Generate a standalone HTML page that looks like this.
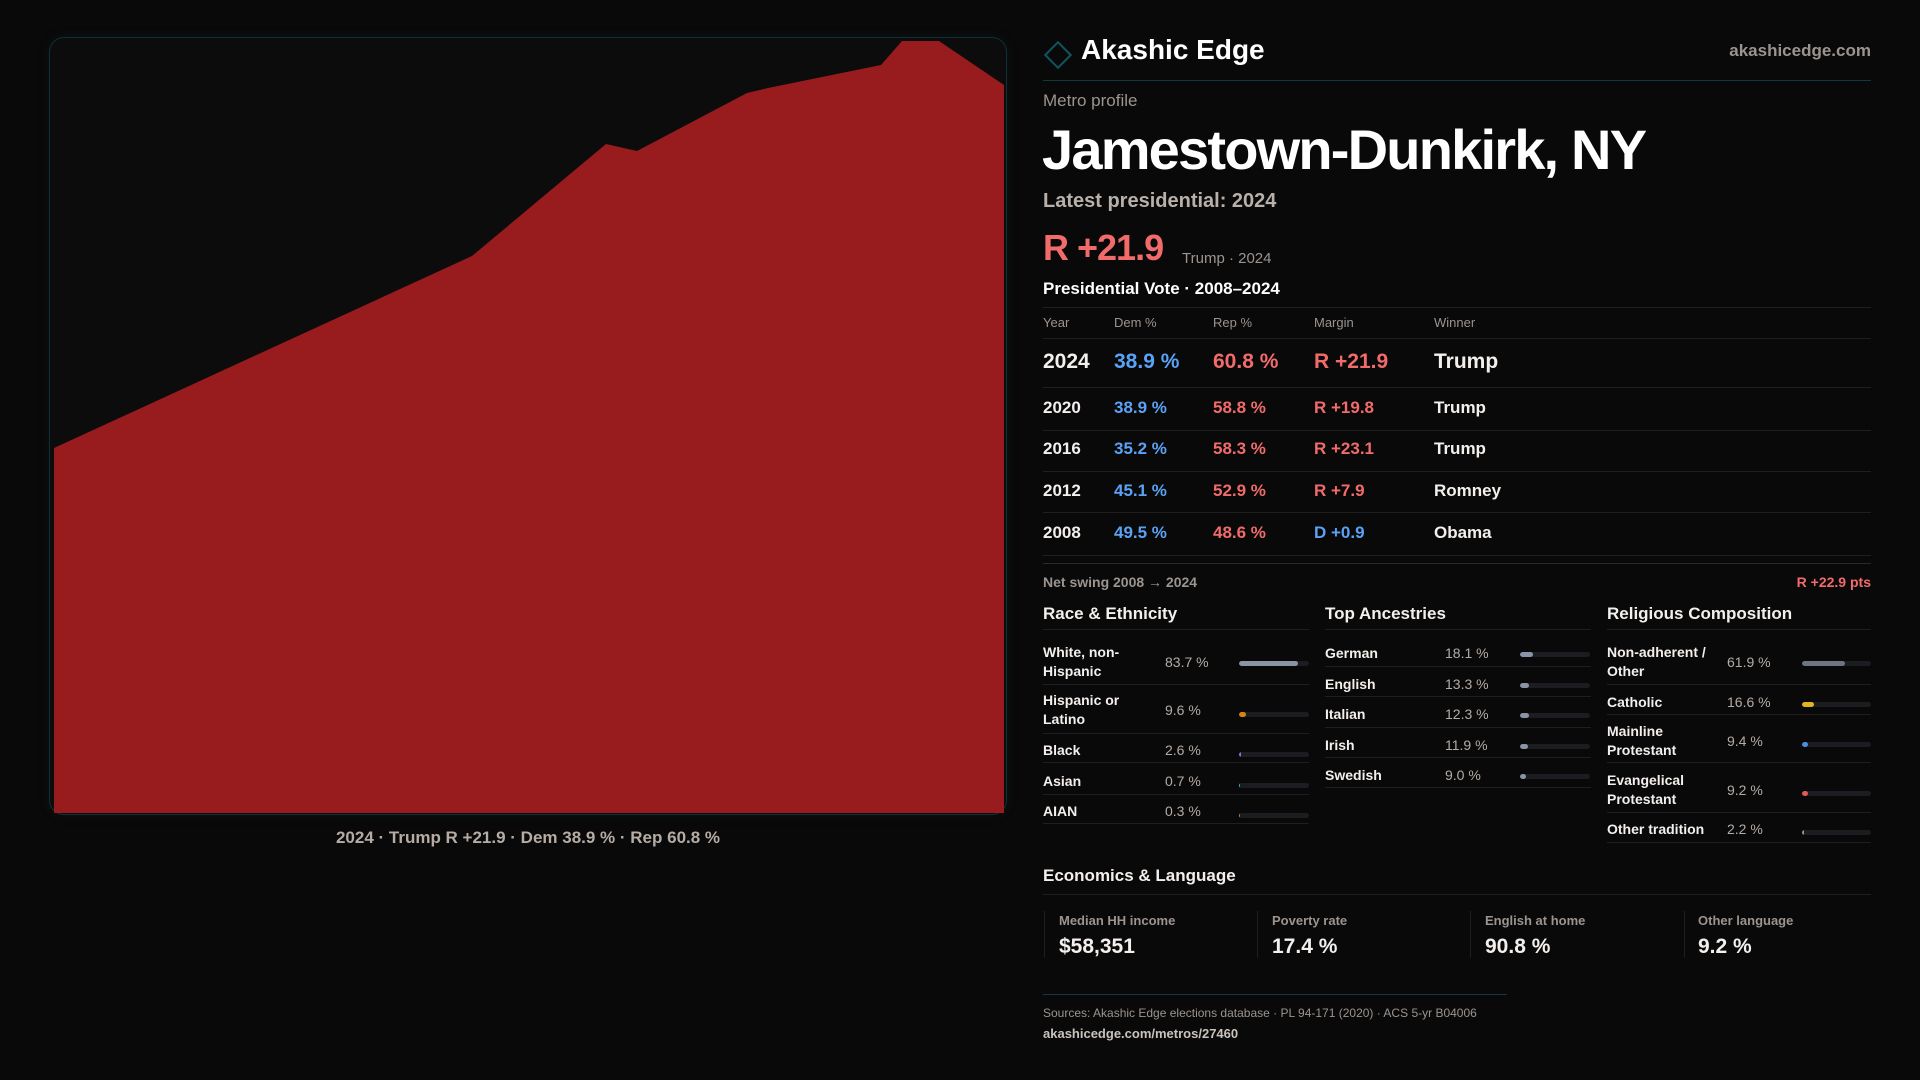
<!DOCTYPE html>
<html><head><meta charset="utf-8"><style>
*{margin:0;padding:0;box-sizing:border-box}
body{width:1920px;height:1080px;background:#0a0909;font-family:"Liberation Sans",sans-serif;color:#f2efec;position:relative;overflow:hidden}
.a{position:absolute;white-space:nowrap}
.ln{position:absolute;height:1px;background:#1f1f22}
.g{color:#9b948f}
.bar{position:absolute;height:5px;border-radius:3px;background:#1c1d21;overflow:hidden}
.bar i{display:block;height:100%;border-radius:3px}
.rt{font-size:14px;font-weight:bold;line-height:19px;margin-top:3px}
.rv{font-size:14px;color:#b3aca6;margin-top:3px}
</style></head><body>
<div class="a" style="left:49px;top:37px;width:958px;height:778px;border:1px solid #0f3036;border-radius:15px;background:#0c0c0d;box-shadow:0 0 12px rgba(20,80,90,0.15);overflow:hidden"></div>
<svg class="a" style="left:0;top:0" width="1920" height="1080"><polygon fill="#981b1e" points="54,448 472,256 606,144 637,151 747,93 768,88 881,65 902,41 939,41 1004,85 1004,813 54,813"/></svg>
<div class="a" style="left:528px;top:828px;transform:translateX(-50%);font-size:17px;font-weight:bold;color:#b5aca5">2024 · Trump R +21.9 · Dem 38.9 % · Rep 60.8 %</div>

<div class="a" style="left:1048px;top:45px;width:20px;height:20px;border:2px solid #0f5560;transform:rotate(45deg)"></div>
<div class="a" style="left:1081px;top:34px;font-size:28px;font-weight:bold;color:#fff">Akashic Edge</div>
<div class="a g" style="right:49px;top:41px;font-size:17px;font-weight:bold">akashicedge.com</div>
<div class="ln" style="left:1043px;width:828px;top:80px;background:#15383e"></div>
<div class="a g" style="left:1043px;top:91px;font-size:17px">Metro profile</div>
<div class="a" style="left:1042px;top:117px;font-size:56px;font-weight:bold;color:#fff;letter-spacing:-1.8px">Jamestown-Dunkirk, NY</div>
<div class="a" style="left:1043px;top:190px;font-size:20px;font-weight:bold;color:#b8b0aa">Latest presidential: 2024</div>
<div class="a" style="left:1043px;top:227px;font-size:36px;font-weight:bold;color:#f26b6b;letter-spacing:-1px">R +21.9</div>
<div class="a g" style="left:1182px;top:250px;font-size:15px">Trump · 2024</div>
<div class="a" style="left:1043px;top:279px;font-size:17px;font-weight:bold;color:#fff">Presidential Vote · 2008–2024</div>
<div class="ln" style="left:1043px;width:828px;top:307px"></div>
<div class="a g" style="left:1043px;top:315px;font-size:13px">Year</div>
<div class="a g" style="left:1114px;top:315px;font-size:13px">Dem %</div>
<div class="a g" style="left:1213px;top:315px;font-size:13px">Rep %</div>
<div class="a g" style="left:1314px;top:315px;font-size:13px">Margin</div>
<div class="a g" style="left:1434px;top:315px;font-size:13px">Winner</div>
<div class="ln" style="left:1043px;width:828px;top:338px"></div>
<div class="a" style="left:1043px;top:350px;font-size:21px;font-weight:bold">2024</div>
<div class="a" style="left:1114px;top:350px;font-size:21px;font-weight:bold;color:#5aa2f5">38.9 %</div>
<div class="a" style="left:1213px;top:350px;font-size:21px;font-weight:bold;color:#f26b6b">60.8 %</div>
<div class="a" style="left:1314px;top:350px;font-size:21px;font-weight:bold;color:#f26b6b">R +21.9</div>
<div class="a" style="left:1434px;top:350px;font-size:21px;font-weight:bold">Trump</div>
<div class="ln" style="left:1043px;width:828px;top:387px"></div>
<div class="a" style="left:1043px;top:398px;font-size:17px;font-weight:bold">2020</div><div class="a" style="left:1114px;top:398px;font-size:17px;font-weight:bold;color:#5aa2f5">38.9 %</div><div class="a" style="left:1213px;top:398px;font-size:17px;font-weight:bold;color:#f26b6b">58.8 %</div><div class="a" style="left:1314px;top:398px;font-size:17px;font-weight:bold;color:#f26b6b">R +19.8</div><div class="a" style="left:1434px;top:398px;font-size:17px;font-weight:bold">Trump</div>
<div class="ln" style="left:1043px;width:828px;top:430px"></div>
<div class="a" style="left:1043px;top:439px;font-size:17px;font-weight:bold">2016</div><div class="a" style="left:1114px;top:439px;font-size:17px;font-weight:bold;color:#5aa2f5">35.2 %</div><div class="a" style="left:1213px;top:439px;font-size:17px;font-weight:bold;color:#f26b6b">58.3 %</div><div class="a" style="left:1314px;top:439px;font-size:17px;font-weight:bold;color:#f26b6b">R +23.1</div><div class="a" style="left:1434px;top:439px;font-size:17px;font-weight:bold">Trump</div>
<div class="ln" style="left:1043px;width:828px;top:471px"></div>
<div class="a" style="left:1043px;top:481px;font-size:17px;font-weight:bold">2012</div><div class="a" style="left:1114px;top:481px;font-size:17px;font-weight:bold;color:#5aa2f5">45.1 %</div><div class="a" style="left:1213px;top:481px;font-size:17px;font-weight:bold;color:#f26b6b">52.9 %</div><div class="a" style="left:1314px;top:481px;font-size:17px;font-weight:bold;color:#f26b6b">R +7.9</div><div class="a" style="left:1434px;top:481px;font-size:17px;font-weight:bold">Romney</div>
<div class="ln" style="left:1043px;width:828px;top:512px"></div>
<div class="a" style="left:1043px;top:523px;font-size:17px;font-weight:bold">2008</div><div class="a" style="left:1114px;top:523px;font-size:17px;font-weight:bold;color:#5aa2f5">49.5 %</div><div class="a" style="left:1213px;top:523px;font-size:17px;font-weight:bold;color:#f26b6b">48.6 %</div><div class="a" style="left:1314px;top:523px;font-size:17px;font-weight:bold;color:#5aa2f5">D +0.9</div><div class="a" style="left:1434px;top:523px;font-size:17px;font-weight:bold">Obama</div>
<div class="ln" style="left:1043px;width:828px;top:555px"></div>
<div class="ln" style="left:1043px;width:828px;top:563px;background:#2a2a2d"></div>
<div class="a g" style="left:1043px;top:574px;font-size:14px;font-weight:bold">Net swing 2008 → 2024</div>
<div class="a" style="right:49px;top:574px;font-size:14px;font-weight:bold;color:#f26b6b">R +22.9 pts</div>

<div class="a" style="left:1043px;top:604px;font-size:17px;font-weight:bold">Race &amp; Ethnicity</div>
<div class="a" style="left:1325px;top:604px;font-size:17px;font-weight:bold">Top Ancestries</div>
<div class="a" style="left:1607px;top:604px;font-size:17px;font-weight:bold">Religious Composition</div>
<div class="ln" style="left:1043px;width:266px;top:629px"></div>
<div class="ln" style="left:1325px;width:266px;top:629px"></div>
<div class="ln" style="left:1607px;width:264px;top:629px"></div>

<div class="a rt" style="left:1043px;top:640px">White, non-<br>Hispanic</div><div class="a rv" style="left:1165px;top:651px">83.7 %</div><div class="bar" style="left:1239px;top:661px;width:70px"><i style="width:84%;background:#8a94a6"></i></div>
<div class="ln" style="left:1043px;width:266px;top:684px"></div>
<div class="a rt" style="left:1043px;top:688px">Hispanic or<br>Latino</div><div class="a rv" style="left:1165px;top:699px">9.6 %</div><div class="bar" style="left:1239px;top:712px;width:70px"><i style="width:7px;background:#d4870e"></i></div>
<div class="ln" style="left:1043px;width:266px;top:733px"></div>
<div class="a rt" style="left:1043px;top:738px">Black</div><div class="a rv" style="left:1165px;top:739px">2.6 %</div><div class="bar" style="left:1239px;top:752px;width:70px"><i style="width:2px;background:#8b6fd6"></i></div>
<div class="ln" style="left:1043px;width:266px;top:762px"></div>
<div class="a rt" style="left:1043px;top:769px">Asian</div><div class="a rv" style="left:1165px;top:770px">0.7 %</div><div class="bar" style="left:1239px;top:783px;width:70px"><i style="width:1px;background:#2bb5a0"></i></div>
<div class="ln" style="left:1043px;width:266px;top:794px"></div>
<div class="a rt" style="left:1043px;top:799px">AIAN</div><div class="a rv" style="left:1165px;top:800px">0.3 %</div><div class="bar" style="left:1239px;top:813px;width:70px"><i style="width:1px;background:#c87a1b"></i></div>
<div class="ln" style="left:1043px;width:266px;top:823px"></div>

<div class="a rt" style="left:1325px;top:641px">German</div><div class="a rv" style="left:1445px;top:642px">18.1 %</div><div class="bar" style="left:1520px;top:652px;width:70px"><i style="width:13px;background:#8a94a6"></i></div>
<div class="ln" style="left:1325px;width:266px;top:666px"></div>
<div class="a rt" style="left:1325px;top:672px">English</div><div class="a rv" style="left:1445px;top:673px">13.3 %</div><div class="bar" style="left:1520px;top:683px;width:70px"><i style="width:9px;background:#8a94a6"></i></div>
<div class="ln" style="left:1325px;width:266px;top:696px"></div>
<div class="a rt" style="left:1325px;top:702px">Italian</div><div class="a rv" style="left:1445px;top:703px">12.3 %</div><div class="bar" style="left:1520px;top:713px;width:70px"><i style="width:9px;background:#8a94a6"></i></div>
<div class="ln" style="left:1325px;width:266px;top:727px"></div>
<div class="a rt" style="left:1325px;top:733px">Irish</div><div class="a rv" style="left:1445px;top:734px">11.9 %</div><div class="bar" style="left:1520px;top:744px;width:70px"><i style="width:8px;background:#8a94a6"></i></div>
<div class="ln" style="left:1325px;width:266px;top:757px"></div>
<div class="a rt" style="left:1325px;top:763px">Swedish</div><div class="a rv" style="left:1445px;top:764px">9.0 %</div><div class="bar" style="left:1520px;top:774px;width:70px"><i style="width:6px;background:#8a94a6"></i></div>
<div class="ln" style="left:1325px;width:266px;top:787px"></div>

<div class="a rt" style="left:1607px;top:640px">Non-adherent /<br>Other</div><div class="a rv" style="left:1727px;top:651px">61.9 %</div><div class="bar" style="left:1802px;top:661px;width:69px"><i style="width:43px;background:#6d7482"></i></div>
<div class="ln" style="left:1607px;width:264px;top:684px"></div>
<div class="a rt" style="left:1607px;top:690px">Catholic</div><div class="a rv" style="left:1727px;top:691px">16.6 %</div><div class="bar" style="left:1802px;top:702px;width:69px"><i style="width:12px;background:#e2b520"></i></div>
<div class="ln" style="left:1607px;width:264px;top:714px"></div>
<div class="a rt" style="left:1607px;top:719px">Mainline<br>Protestant</div><div class="a rv" style="left:1727px;top:730px">9.4 %</div><div class="bar" style="left:1802px;top:742px;width:69px"><i style="width:6px;background:#4a90e2"></i></div>
<div class="ln" style="left:1607px;width:264px;top:762px"></div>
<div class="a rt" style="left:1607px;top:768px">Evangelical<br>Protestant</div><div class="a rv" style="left:1727px;top:779px">9.2 %</div><div class="bar" style="left:1802px;top:791px;width:69px"><i style="width:6px;background:#e05a5a"></i></div>
<div class="ln" style="left:1607px;width:264px;top:812px"></div>
<div class="a rt" style="left:1607px;top:817px">Other tradition</div><div class="a rv" style="left:1727px;top:818px">2.2 %</div><div class="bar" style="left:1802px;top:830px;width:69px"><i style="width:2px;background:#8a94a6"></i></div>
<div class="ln" style="left:1607px;width:264px;top:842px"></div>

<div class="a" style="left:1043px;top:866px;font-size:17px;font-weight:bold">Economics &amp; Language</div>
<div class="ln" style="left:1043px;width:828px;top:894px"></div>
<div class="a" style="left:1044px;top:911px;width:1px;height:47px;background:#1f1f22"></div>
<div class="a" style="left:1257px;top:911px;width:1px;height:47px;background:#1f1f22"></div>
<div class="a" style="left:1470px;top:911px;width:1px;height:47px;background:#1f1f22"></div>
<div class="a" style="left:1684px;top:911px;width:1px;height:47px;background:#1f1f22"></div>
<div class="a g" style="left:1059px;top:913px;font-size:13px;font-weight:bold">Median HH income</div><div class="a" style="left:1059px;top:935px;font-size:21px;font-weight:bold">$58,351</div>
<div class="a g" style="left:1272px;top:913px;font-size:13px;font-weight:bold">Poverty rate</div><div class="a" style="left:1272px;top:935px;font-size:21px;font-weight:bold">17.4 %</div>
<div class="a g" style="left:1485px;top:913px;font-size:13px;font-weight:bold">English at home</div><div class="a" style="left:1485px;top:935px;font-size:21px;font-weight:bold">90.8 %</div>
<div class="a g" style="left:1698px;top:913px;font-size:13px;font-weight:bold">Other language</div><div class="a" style="left:1698px;top:935px;font-size:21px;font-weight:bold">9.2 %</div>

<div class="ln" style="left:1043px;width:464px;top:994px;background:#15383e"></div>
<div class="a g" style="left:1043px;top:1006px;font-size:12px">Sources: Akashic Edge elections database · PL 94-171 (2020) · ACS 5-yr B04006</div>
<div class="a" style="left:1043px;top:1026px;font-size:13px;font-weight:bold;color:#c9c3be">akashicedge.com/metros/27460</div>
</body></html>
